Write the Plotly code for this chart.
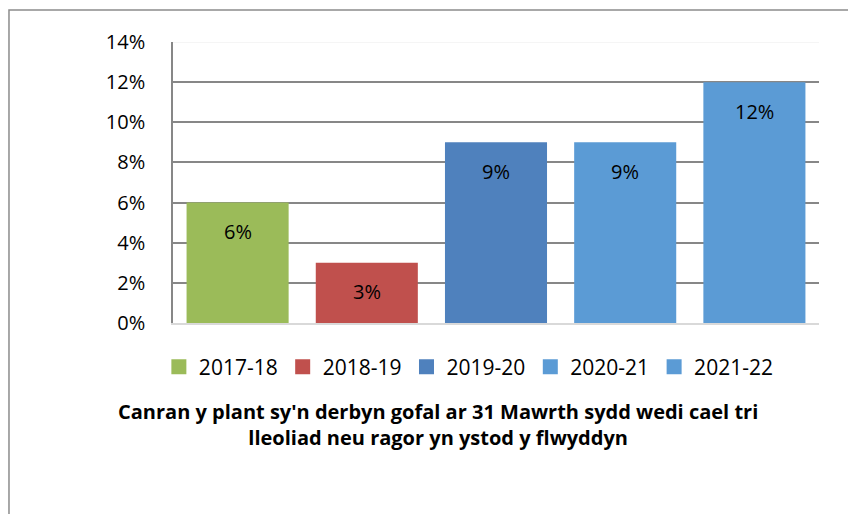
import plotly.graph_objects as go

years = ["2017-18", "2018-19", "2019-20", "2020-21", "2021-22"]
values = [6, 3, 9, 9, 12]
labels = ["6%", "3%", "9%", "9%", "12%"]
colors = ["#9BBB59", "#C0504D", "#4F81BD", "#5B9BD5", "#5B9BD5"]
tick_vals = [0, 2, 4, 6, 8, 10, 12, 14]
tick_text = ["0%", "2%", "4%", "6%", "8%", "10%", "12%", "14%"]
title_lines = ["Canran y plant sy'n derbyn gofal ar 31 Mawrth sydd wedi cael tri",
               "lleoliad neu ragor yn ystod y flwyddyn"]

FONT = "Open Sans, sans-serif"

fig = go.Figure()
for yr, v, c in zip(years, values, colors):
    fig.add_trace(go.Bar(x=[yr], y=[v], name=yr, marker=dict(color=c, line=dict(width=0)),
                         width=0.79, hoverinfo="skip", showlegend=False))
# legend entries with larger square swatches
for yr, c in zip(years, colors):
    fig.add_trace(go.Scatter(x=[None], y=[None], name=yr, mode="markers",
                             marker=dict(symbol="square", size=15, color=c), showlegend=True))

for yr, v, t in zip(years, values, labels):
    fig.add_annotation(x=yr, y=v, text=t, showarrow=False, yanchor="middle",
                       yshift=-29, font=dict(family=FONT, size=20, color="#000000"))

fig.add_annotation(xref="paper", yref="paper", x=0.41, y=-0.361,
                   text="<br>".join("<b>" + s + "</b>" for s in title_lines),
                   showarrow=False, xanchor="center", yanchor="middle", align="center",
                   font=dict(family=FONT, size=20, color="#000000"))

# outer chart frame
fig.add_shape(type="rect", xref="paper", yref="paper", x0=-0.2539, y0=-0.75, x1=1.2, y1=1.114,
              line=dict(color="#8C8C8C", width=1.5), fillcolor="rgba(0,0,0,0)", layer="below")
# faint top gridline
fig.add_shape(type="line", xref="paper", yref="y", x0=0, x1=1, y0=14, y1=14,
              line=dict(color="#F2F2F2", width=1.5), layer="below")

fig.update_layout(
    width=856, height=514,
    margin=dict(l=165, r=45, t=34, b=199),
    paper_bgcolor="white", plot_bgcolor="white",
    barmode="overlay",
    showlegend=True,
    legend=dict(orientation="h", x=0.458, xanchor="center", y=-0.157, yanchor="middle",
                font=dict(family=FONT, size=21, color="#000000"),
                itemwidth=30, tracegroupgap=0, traceorder="normal"),
    font=dict(family=FONT, color="#000000"),
)
fig.update_xaxes(showticklabels=False, showgrid=False, showline=True, linecolor="#D9D9D9",
                 linewidth=1.5, ticks="", zeroline=False)
fig.update_yaxes(range=[0, 14], tickvals=tick_vals, ticktext=tick_text, showgrid=True,
                 gridcolor="#878787", gridwidth=1.5, showline=True, linecolor="#878787",
                 linewidth=1.5, ticks="", ticklabelstandoff=22, zeroline=False,
                 tickfont=dict(family=FONT, size=20, color="#000000"))

fig.write_html("out.html")
